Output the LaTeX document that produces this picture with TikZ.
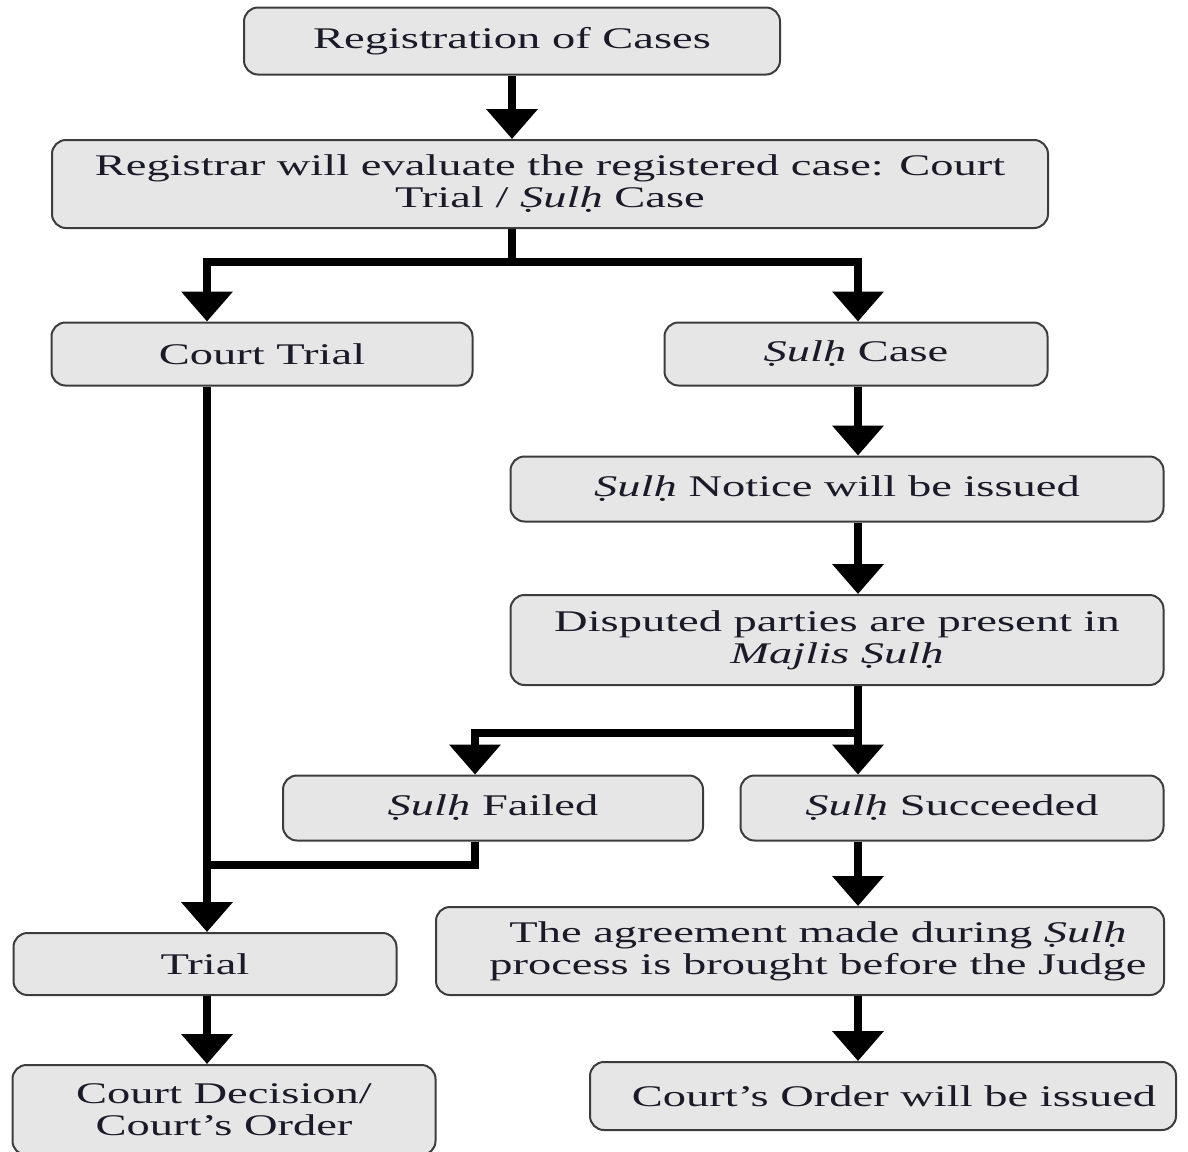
\documentclass[tikz,border=0pt]{standalone}
\usepackage{fontspec}
\setmainfont{Liberation Serif}[FakeStretch=1.55]
\usetikzlibrary{arrows.meta,calc}
\definecolor{boxfill}{HTML}{E6E6E6}
\definecolor{boxline}{HTML}{3C3C3C}
\definecolor{txt}{HTML}{1A1A28}
\tikzset{
  box/.style={draw=boxline, line width=2pt, fill=boxfill, rounded corners=14pt,
    align=center, inner sep=0pt, text=txt, font=\fontsize{30}{32}\selectfont},
  conn/.style={line width=8pt, draw=black},
  arr/.style={conn, -{Triangle[width=50pt,length=30pt]}},
}
\newcommand{\sulh}{\textit{Ṣulḥ}}
\begin{document}
\begin{tikzpicture}[x=1pt,y=-1pt]
\useasboundingbox (0,0) rectangle (1188,1151);
\node[box, minimum width=536pt, minimum height=67pt] (reg) at (512,41) {Registration of Cases};
\node[box, minimum width=996pt, minimum height=88pt] (eval) at (550,184) {Registrar will evaluate the registered case: Court\\Trial / \sulh{} Case};
\node[box, minimum width=421pt, minimum height=63pt] (ct) at (262,354) {Court Trial};
\node[box, minimum width=383pt, minimum height=63pt] (sc) at (856,354) {\sulh{} Case};
\node[box, minimum width=653pt, minimum height=65pt] (notice) at (837,489) {\sulh{} Notice will be issued};
\node[box, minimum width=653pt, minimum height=90pt] (disp) at (837,640) {Disputed parties are present in\\\textit{Majlis Ṣulḥ}};
\node[box, minimum width=420pt, minimum height=65pt] (failed) at (493,808) {\sulh{} Failed};
\node[box, minimum width=423pt, minimum height=65pt] (succ) at (952,808) {\sulh{} Succeeded};
\node[box, minimum width=383pt, minimum height=62pt] (trial) at (205,964) {Trial};
\node[box, minimum width=728pt, minimum height=88pt] (agree) at (800,951) {\hspace*{36pt}The agreement made during \sulh\\\hspace*{36pt}process is brought before the Judge};
\node[box, minimum width=423pt, minimum height=90pt, text depth=0pt] (dec) at (224,1110) {Court Decision/\\Court’s Order};
\node[box, minimum width=586pt, minimum height=68pt] (order) at (883,1096) {\hspace*{22pt}Court’s Order will be issued};
% guide coordinates
\coordinate (xC) at (512,0);
\coordinate (xL) at (207,0);
\coordinate (xR) at (858,0);
\coordinate (xM) at (475,0);
\coordinate (j1) at (512,262);
\coordinate (j2) at (858,733);
\coordinate (j3) at (207,865);
% connectors
\draw[arr] (xC |- reg.south) -- (xC |- eval.north);
\draw[conn] (xC |- eval.south) -- (j1);
\draw[arr] (j1) -| (xL |- ct.north);
\draw[arr] (j1) -| (xR |- sc.north);
\draw[arr] (xR |- sc.south) -- (xR |- notice.north);
\draw[arr] (xR |- notice.south) -- (xR |- disp.north);
\draw[arr] (xR |- disp.south) -- (xR |- succ.north);
\draw[arr] (j2) -| (xM |- failed.north);
\draw[arr] (xL |- ct.south) -- (xL |- trial.north);
\draw[conn] (xM |- failed.south) |- (j3);
\draw[arr] (xR |- succ.south) -- (xR |- agree.north);
\draw[arr] (xL |- trial.south) -- (xL |- dec.north);
\draw[arr] (xR |- agree.south) -- (xR |- order.north);
\end{tikzpicture}
\end{document}
